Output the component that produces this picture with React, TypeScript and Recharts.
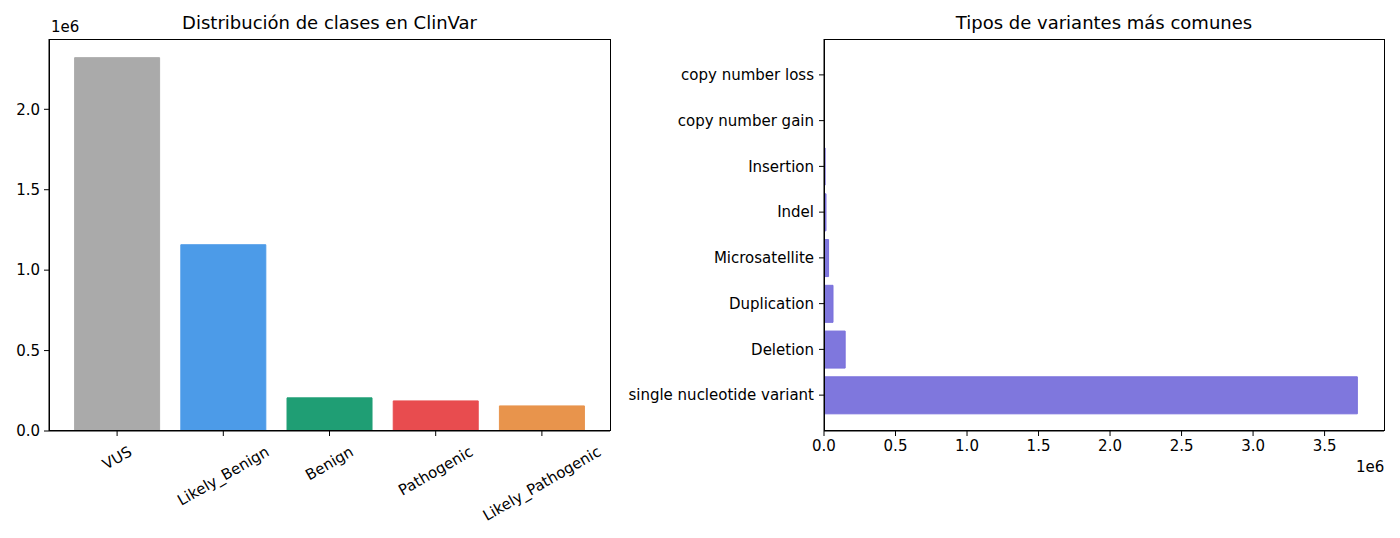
import React from 'react';
import { BarChart, Bar, XAxis, YAxis, Cell } from 'recharts';

// Left panel: ClinVar classes
const classNames = ['VUS', 'Likely_Benign', 'Benign', 'Pathogenic', 'Likely_Pathogenic'];
const classCounts = [2321000, 1158000, 206000, 187000, 156000];
const classColors = ['#aaaaaa', '#4c9be8', '#1f9e74', '#e84c4f', '#e8944c'];
const classTicks = [0, 500000, 1000000, 1500000, 2000000];

// Right panel: variant types (first item drawn at the bottom)
const variantTypes = [
    'single nucleotide variant',
    'Deletion',
    'Duplication',
    'Microsatellite',
    'Indel',
    'Insertion',
    'copy number gain',
    'copy number loss',
];
const variantCounts = [3729000, 148000, 63000, 32000, 14000, 8000, 2000, 1000];
const variantTicks = [0, 500000, 1000000, 1500000, 2000000, 2500000, 3000000, 3500000];

const FONT = '"DejaVu Sans", Verdana, sans-serif';
const TICK_FS = 15;

const classData = classNames.map((name, i) => ({ name, count: classCounts[i] }));
const variantData = variantTypes.map((name, i) => ({ name, count: variantCounts[i] }));

// matplotlib-like autoscale: 5% headroom above the largest bar
const classMax = Math.max(...classCounts) * 1.05;
const variantMax = Math.max(...variantCounts) * 1.05;

const fmt = (v: number) => (v / 1e6).toFixed(1);

let ctx: CanvasRenderingContext2D | null = null;
const textWidth = (s: string) => {
    if (!ctx) ctx = document.createElement('canvas').getContext('2d');
    if (!ctx) return s.length * 9;
    ctx.font = `${TICK_FS}px ${FONT}`;
    return ctx.measureText(s).width;
};

// matplotlib-style rotation=30, ha=center: bbox centred under the tick
const RotatedTick = ({ x, y, payload }: any) => {
    const w = textWidth(String(payload.value));
    const h = 17;
    const bh = w * 0.5 + h * 0.866;
    const cy = y + 2 + bh / 2;
    return (
        <text
            x={x}
            y={cy}
            textAnchor="middle"
            dominantBaseline="central"
            transform={`rotate(-30 ${x} ${cy})`}
            fontSize={TICK_FS}
            fontFamily={FONT}
            fill="#000"
        >
            {payload.value}
        </text>
    );
};

const tickStyle = { fontSize: TICK_FS, fontFamily: FONT, fill: '#000' };
const axisLine = { stroke: '#000', strokeWidth: 1 };
const tickLine = { stroke: '#000', strokeWidth: 1 };

const titleStyle: React.CSSProperties = {
    position: 'absolute',
    top: 12,
    fontSize: 18,
    lineHeight: '22px',
    fontFamily: FONT,
    color: '#000',
    textAlign: 'center',
    whiteSpace: 'nowrap',
};

const frameStyle: React.CSSProperties = {
    position: 'absolute',
    top: 39,
    height: 392,
    border: '1px solid #000',
    boxSizing: 'border-box',
    pointerEvents: 'none',
};

const smallStyle: React.CSSProperties = {
    position: 'absolute',
    fontSize: TICK_FS,
    lineHeight: '17px',
    fontFamily: FONT,
    color: '#000',
};

const App: React.FC = () => {
    return (
        <div style={{ position: 'absolute', left: 0, top: 0, width: 1400, height: 538, background: '#fff', fontFamily: FONT }}>
            <div style={{ ...titleStyle, left: 49, width: 561 }}>Distribución de clases en ClinVar</div>
            <div style={{ ...titleStyle, left: 824, width: 560 }}>Tipos de variantes más comunes</div>
            <div style={{ ...smallStyle, left: 51, top: 19 }}>1e6</div>
            <div style={{ ...smallStyle, left: 1356, top: 459 }}>1e6</div>

            <div style={{ position: 'absolute', left: 0, top: 0 }}>
                <BarChart width={620} height={538} data={classData} margin={{ top: 39, right: 10, bottom: 0, left: 0 }} barCategoryGap="10%">
                    <XAxis
                        dataKey="name"
                        height={107}
                        padding={{ left: 15, right: 15 }}
                        tick={<RotatedTick />}
                        tickSize={5}
                        tickMargin={5}
                        axisLine={axisLine}
                        tickLine={tickLine}
                        interval={0}
                    />
                    <YAxis
                        width={49}
                        domain={[0, classMax]}
                        ticks={classTicks}
                        tickFormatter={fmt}
                        tick={tickStyle}
                        tickSize={5}
                        tickMargin={4}
                        axisLine={axisLine}
                        tickLine={tickLine}
                        allowDataOverflow
                    />
                    <Bar dataKey="count" isAnimationActive={false}>
                        {classData.map((d, i) => (
                            <Cell key={d.name} fill={classColors[i]} stroke={classColors[i]} strokeWidth={1} />
                        ))}
                    </Bar>
                </BarChart>
            </div>
            <div style={{ ...frameStyle, left: 49, width: 562 }} />

            <div style={{ position: 'absolute', left: 620, top: 0 }}>
                <BarChart
                    width={780}
                    height={538}
                    data={variantData}
                    layout="vertical"
                    margin={{ top: 39, right: 16, bottom: 67, left: 0 }}
                    barCategoryGap="10%"
                >
                    <XAxis
                        type="number"
                        height={40}
                        domain={[0, variantMax]}
                        ticks={variantTicks}
                        tickFormatter={fmt}
                        tick={tickStyle}
                        tickSize={5}
                        tickMargin={4}
                        axisLine={axisLine}
                        tickLine={tickLine}
                        allowDataOverflow
                    />
                    <YAxis
                        type="category"
                        dataKey="name"
                        width={204}
                        reversed
                        padding={{ top: 13, bottom: 13 }}
                        tick={tickStyle}
                        tickSize={5}
                        tickMargin={5}
                        axisLine={axisLine}
                        tickLine={tickLine}
                        interval={0}
                    />
                    <Bar dataKey="count" fill="#7f77dd" stroke="#7a70dc" strokeWidth={1} isAnimationActive={false} />
                </BarChart>
            </div>
            <div style={{ ...frameStyle, left: 824, width: 561 }} />
        </div>
    );
};

export default App;
